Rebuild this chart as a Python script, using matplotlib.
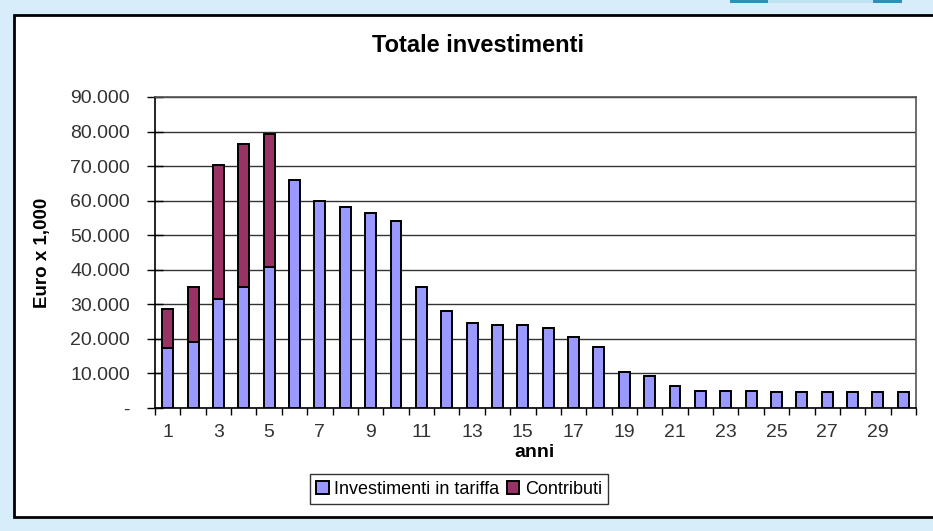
import numpy as np
import matplotlib
matplotlib.use("Agg")
import matplotlib.pyplot as plt
from matplotlib.patches import Rectangle
from matplotlib.ticker import FuncFormatter

# dati (euro x 1.000)
anni = np.arange(1, 31)
investimenti = [17500, 19200, 31500, 35100, 40800, 65900, 59900, 58200, 56400, 54000,
                34900, 28200, 24700, 24000, 24000, 23100, 20500, 17600, 10400, 9400,
                6500, 5000, 5000, 5000, 4600, 4600, 4600, 4600, 4600, 4600]
contributi = [11200, 15900, 38800, 41200, 38400, 0, 0, 0, 0, 0,
              0, 0, 0, 0, 0, 0, 0, 0, 0, 0,
              0, 0, 0, 0, 0, 0, 0, 0, 0, 0]
etichette_x = [str(a) if a % 2 == 1 else "" for a in anni]

plt.rcParams["font.family"] = ["Liberation Sans", "DejaVu Sans"]

W, H = 933, 531
fig = plt.figure(figsize=(W / 100, H / 100), dpi=100)
fig.patch.set_facecolor("#d8edfa")

# area del grafico (bianca con bordo nero)
fig.patches.append(Rectangle((14 / W, 1 - 517 / H), 1, (517 - 15) / H,
                             transform=fig.transFigure, facecolor="white",
                             edgecolor="black", linewidth=2, zorder=-2))
# pezzetto di logo in alto a destra
fig.patches.append(Rectangle((730 / W, 1 - 3 / H), 172 / W, 3 / H,
                             transform=fig.transFigure, facecolor="#bfe3f2",
                             edgecolor="none", zorder=-2))
fig.patches.append(Rectangle((730 / W, 1 - 3 / H), 38 / W, 3 / H,
                             transform=fig.transFigure, facecolor="#2e8fb8",
                             edgecolor="none", zorder=-2))
fig.patches.append(Rectangle((873 / W, 1 - 3 / H), 29 / W, 3 / H,
                             transform=fig.transFigure, facecolor="#2e8fb8",
                             edgecolor="none", zorder=-2))

ax = fig.add_axes([155 / W, 1 - 408 / H, 761 / W, 311 / H])
ax.set_zorder(1)
ax.set_facecolor("white")

ax.bar(anni, investimenti, width=0.43, color="#9999ff", edgecolor="black",
       linewidth=1.4, label="Investimenti in tariffa", zorder=3)
ax.bar(anni, contributi, width=0.43, bottom=investimenti, color="#993366",
       edgecolor="black", linewidth=1.4, label="Contributi", zorder=3)

ax.set_xlim(0.5, 30.5)
ax.set_ylim(0, 90000)
ax.set_yticks(np.arange(0, 90001, 10000))
ax.yaxis.set_major_formatter(FuncFormatter(
    lambda v, p: "-" if v == 0 else f"{int(v):,}".replace(",", ".")))
ax.grid(axis="y", color="#333333", linewidth=1.0, zorder=1)

ax.set_xticks(anni)
ax.set_xticklabels(etichette_x)
ax.set_xticks(np.arange(0.5, 31, 1), minor=True)
ax.tick_params(axis="x", which="major", length=0, pad=11.5, labelsize=14, colors="#333333")
ax.tick_params(axis="x", which="minor", length=5, width=1, direction="out", color="black")
ax.tick_params(axis="y", length=12, width=1, direction="inout", pad=12, labelsize=14,
               labelcolor="#333333")

for s in ["left", "bottom"]:
    ax.spines[s].set_color("black")
    ax.spines[s].set_linewidth(1.2)
for s in ["top", "right"]:
    ax.spines[s].set_color("#555555")
    ax.spines[s].set_linewidth(1.2)

ax.set_ylabel("Euro x 1,000", fontsize=13.5, fontweight="bold")
ax.yaxis.set_label_coords(-0.137, 0.5)
ax.set_xlabel("anni", fontsize=14, fontweight="bold")
ax.xaxis.set_label_coords(0.4993, -0.116)

fig.text(478 / W, 1 - 45 / H, "Totale investimenti", ha="center", va="center",
         fontsize=17, fontweight="bold")

fig.legend(loc="center", bbox_to_anchor=(459 / W, 1 - 489 / H), ncol=2,
           fontsize=13, frameon=True, fancybox=False, edgecolor="black",
           handlelength=0.7, handleheight=0.7, handletextpad=0.3,
           columnspacing=0.4, borderpad=0.35, borderaxespad=0)

fig.savefig("out.png", dpi=100, facecolor=fig.get_facecolor())
